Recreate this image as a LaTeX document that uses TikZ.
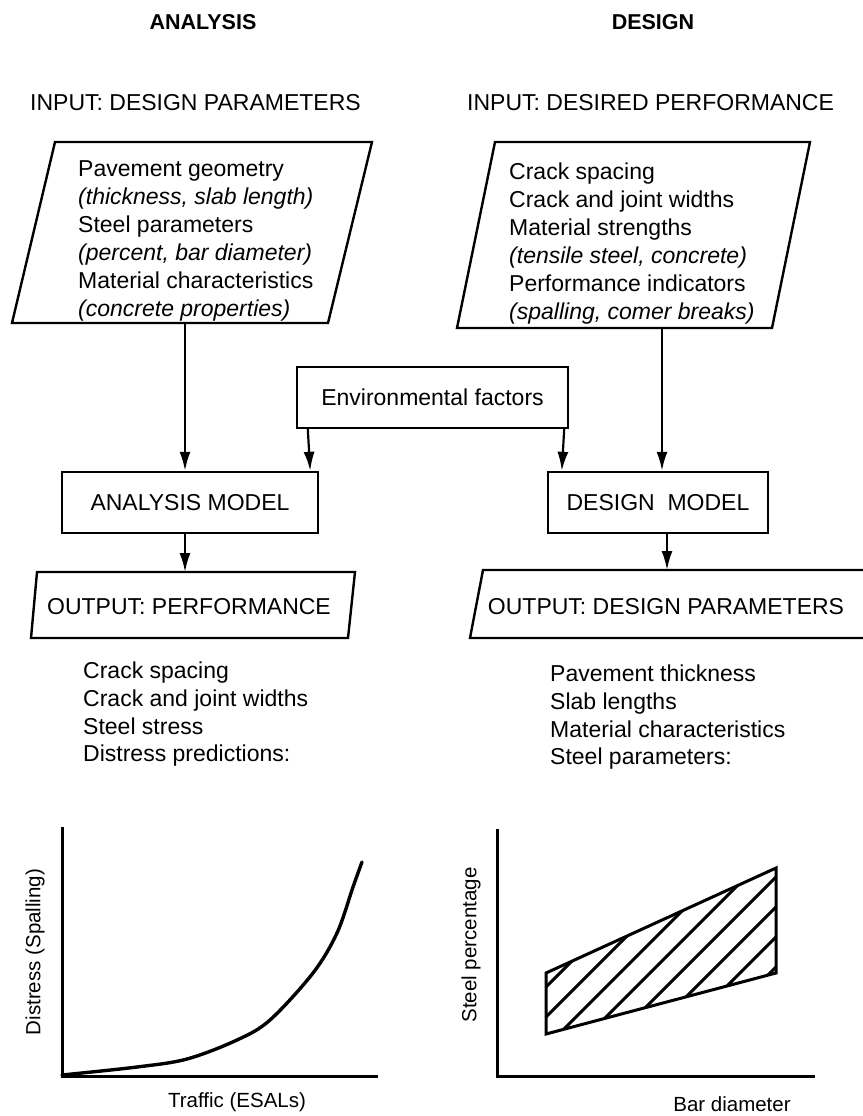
\documentclass[tikz,border=0pt]{standalone}
\usepackage{fontspec}
\setmainfont{Liberation Sans}
\usetikzlibrary{arrows.meta}

\begin{document}
\begin{tikzpicture}[x=1pt, y=-1pt,
			% Define styles for nodes
			txt/.style={inner sep=0pt, font=\fontsize{23}{28}\selectfont},
			head/.style={inner sep=0pt, font=\bfseries\fontsize{21.5}{26}\selectfont},
			listtxt/.style={txt, align=left, anchor=north west},
			box/.style={txt, draw, line width=2.4pt, minimum height=61pt},
			axlbl/.style={inner sep=0pt, font=\fontsize{20.5}{24}\selectfont},
			frame/.style={draw, line width=2.4pt, line join=miter},
			axis/.style={draw, line width=3pt},
			arr/.style={draw, line width=2.2pt, -{Latex[length=19pt,width=11pt]}}
		]
		\useasboundingbox (0,0) rectangle (862,1116);
		\fill[white] (0,0) rectangle (862,1116);

		% Column titles
		\node[head] (titAna) at (203,22) {ANALYSIS};
		\node[head] (titDes) at (653,22) {DESIGN};
		\node[txt, anchor=west] (inLhead) at (30,103) {INPUT: DESIGN PARAMETERS};
		\node[txt, anchor=west] (inRhead) at (467,103) {INPUT: DESIRED PERFORMANCE};

		% Input boxes
		\draw[frame] (55,142) -- (372,142) -- (328,323) -- (12,323) -- cycle;
		\node[listtxt] (inLtxt) at (78,160) {Pavement geometry\\
				{\itshape (thickness, slab length)}\\
				Steel parameters\\
				{\itshape (percent, bar diameter)}\\
				Material characteristics\\
				{\itshape (concrete properties)}};
		\draw[frame] (495,142) -- (810,142) -- (772,328) -- (457,328) -- cycle;
		\node[listtxt] (inRtxt) at (509,163) {Crack spacing\\
				Crack and joint widths\\
				Material strengths\\
				{\itshape (tensile steel, concrete)}\\
				Performance indicators\\
				{\itshape (spalling, comer breaks)}};
		\coordinate (inLbot) at (185,323);
		\coordinate (inRbot) at (662,328);

		% Models
		\node[box, minimum width=271pt] (env) at (432.5,397.5) {Environmental factors};
		\node[box, minimum width=256pt] (anaModel) at (190,502.5) {ANALYSIS MODEL};
		\node[box, minimum width=220pt] (desModel) at (658,502.5) {DESIGN\ \ MODEL};

		\draw[arr] (inLbot) -- ([xshift=-5pt]anaModel.north);
		\draw[arr] (inRbot) -- ([xshift=4pt]desModel.north);
		\draw[arr] ([xshift=12pt]env.south west) -- ([xshift=-9pt]anaModel.north east);
		\draw[arr] ([xshift=-5pt]env.south east) -- ([xshift=15pt]desModel.north west);

		% Output boxes
		\draw[frame] (37,572) -- (355,572) -- (348,638) -- (31,638) -- cycle;
		\node[txt] (outLtxt) at (189,607) {OUTPUT: PERFORMANCE};
		\draw[frame] (870,570) -- (483,570) -- (470,638) -- (870,638);
		\node[txt] (outRtxt) at (666,607) {OUTPUT: DESIGN PARAMETERS};
		\coordinate (outLtop) at (185,572);
		\coordinate (outRtop) at (667,570);

		\draw[arr] ([xshift=-5pt]anaModel.south) -- (outLtop);
		\draw[arr] ([xshift=9pt]desModel.south) -- (outRtop);

		\node[listtxt, font=\fontsize{23}{27.6}\selectfont] (listL) at (83,662) {Crack spacing\\
				Crack and joint widths\\
				Steel stress\\
				Distress predictions:};
		\node[listtxt, font=\fontsize{23}{27.6}\selectfont] (listR) at (550,665) {Pavement thickness\\
				Slab lengths\\
				Material characteristics\\
				Steel parameters:};

		% Distress graph
		\draw[axis] (62,827) -- (62,1076) -- (378,1076);
		\draw[line width=3.4pt, line cap=round] plot[smooth, tension=0.55] coordinates {(62,1075) (137,1067) (187,1059) (237,1040) (270,1020) (313,973) (337,933) (353,887) (362,862)};
		\node[axlbl, rotate=90] (ylblL) at (35,952) {Distress (Spalling)};
		\node[axlbl] (xlblL) at (237,1102) {Traffic (ESALs)};

		% Steel graph
		\draw[axis] (497,829) -- (497,1076) -- (815,1076);
		\begin{scope}
			\clip (546,973) -- (776,868) -- (776,973) -- (546,1034) -- cycle;
			\foreach \c in {1533,1563,...,1743}
				\draw[line width=3pt] ({\c-1100},1100) -- ({\c-800},800);
		\end{scope}
		\draw[frame, line width=3pt] (546,973) -- (776,868) -- (776,973) -- (546,1034) -- cycle;
		\node[axlbl, rotate=90] (ylblR) at (471,945) {Steel percentage};
		\node[axlbl] (xlblR) at (732,1104) {Bar diameter};
	\end{tikzpicture}
\end{document}
